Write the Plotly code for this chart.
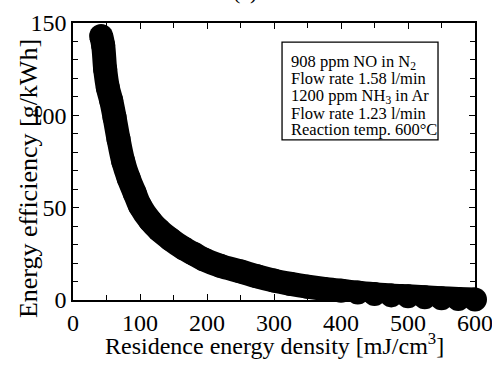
import plotly.graph_objects as go

# Data
energy_density = [42, 45, 48, 52, 57, 62, 68, 75, 83, 92, 100, 115, 128, 145, 165, 180, 195,
                  220, 250, 275, 300, 325, 350, 375, 400, 425, 450, 475, 500, 525, 550, 575, 600]
energy_efficiency = [143, 138, 125, 115, 108, 99, 87, 75, 66, 58, 51, 43, 38, 33, 28, 25, 22,
                     18.5, 15.5, 12.8, 10.5, 8.7, 7.2, 6, 5, 4, 3.2, 2.5, 2, 1.5, 1, 0.6, 0.3]

x_ticks = [0, 100, 200, 300, 400, 500, 600]
y_ticks = [0, 50, 100, 150]

legend_lines = [
    "908 ppm NO in N<sub>2</sub>",
    "Flow rate 1.58 l/min",
    "1200 ppm NH<sub>3</sub> in Ar",
    "Flow rate 1.23 l/min",
    "Reaction temp. 600°C",
]

FONT = "Liberation Serif, Times New Roman, serif"

fig = go.Figure()
fig.add_trace(go.Scatter(
    x=energy_density, y=energy_efficiency, mode="lines+markers",
    line=dict(color="black", width=24, shape="spline"),
    marker=dict(color="black", size=24),
    cliponaxis=False, showlegend=False, hoverinfo="skip",
))

axis_common = dict(
    showline=True, linecolor="black", linewidth=1.5, mirror="ticks",
    ticks="inside", ticklen=6, tickwidth=1.2, tickcolor="black",
    showgrid=False, zeroline=False, automargin=False, ticklabeloverflow="allow",
    tickfont=dict(family=FONT, size=24, color="black"),
)

fig.update_xaxes(range=[0, 600], tickvals=x_ticks,
                 minor=dict(dtick=50, ticks="inside", ticklen=5, tickcolor="black"),
                 **axis_common)
fig.update_yaxes(range=[0, 150], tickvals=y_ticks, ticklabelstandoff=0,
                 minor=dict(dtick=10, ticks="inside", ticklen=5, tickcolor="black"),
                 **axis_common)

annotations = [
    dict(text="Residence energy density [mJ/cm<sup>3</sup>]", x=0.5, y=-0.16,
         xref="paper", yref="paper", xanchor="center", yanchor="middle", showarrow=False,
         font=dict(family=FONT, size=24, color="black")),
    dict(text="Energy efficiency [g/kWh]", x=-0.112, y=0.44, textangle=-90,
         xref="paper", yref="paper", xanchor="center", yanchor="middle", showarrow=False,
         font=dict(family=FONT, size=26, color="black")),
    dict(text="(c)", x=0.428, y=1.06, xref="paper", yref="paper",
         xanchor="center", yanchor="bottom", showarrow=False,
         font=dict(family=FONT, size=22, color="black")),
]
line_y = [0.859, 0.798, 0.736, 0.675, 0.614]
for txt, yy in zip(legend_lines, line_y):
    annotations.append(dict(text=txt, x=0.537, y=yy, xref="paper", yref="paper",
                            xanchor="left", yanchor="middle", showarrow=False,
                            font=dict(family=FONT, size=16.5, color="black")))

fig.update_layout(
    width=492, height=366,
    margin=dict(l=73, r=17, t=23, b=66),
    paper_bgcolor="white", plot_bgcolor="white",
    annotations=annotations,
    shapes=[dict(type="rect", xref="paper", yref="paper",
                 x0=0.52, x1=0.908, y0=0.578, y1=0.931,
                 line=dict(color="black", width=1.3), fillcolor="rgba(0,0,0,0)")],
)

fig.write_html("out.html", config={"displayModeBar": False},
               post_script="document.body.style.margin='0';document.body.style.overflow='hidden';")
